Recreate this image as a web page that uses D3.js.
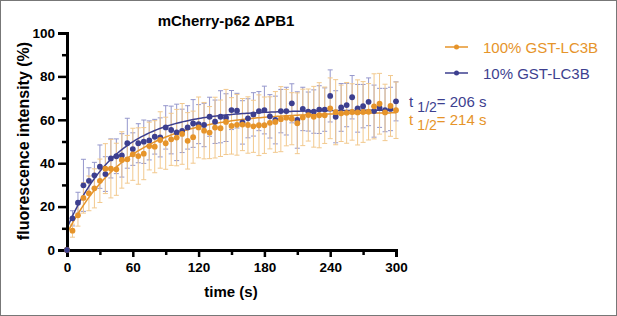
<!DOCTYPE html>
<html>
<head>
<meta charset="utf-8">
<script src="https://cdn.jsdelivr.net/npm/d3@7"></script>
<style>
  body { margin: 0; background: #fff; }
  svg { display: block; font-family: "Liberation Sans", Arial, sans-serif; }
</style>
</head>
<body>
<script>
const W = 617, H = 316;

// time points (s)
const times = d3.range(0, 301, 5);

// 10% GST-LC3B (blue) mean and SD
const blueMean = [0, 14.6, 21.8, 29.8, 31.9, 34.4, 38.4, 35.0, 42.2, 43.2, 43.6,
  49.2, 46.5, 49.2, 49.9, 50.5, 52.2, 51.9, 56.5, 55.3, 54.2,
  54.9, 56.5, 58.3, 58.0, 57.6, 61.4, 59.1, 61.4, 61.0, 64.5,
  64.2, 58.8, 60.7, 62.5, 64.0, 64.5, 61.6, 59.9, 64.0, 64.0,
  67.6, 59.9, 65.0, 63.8, 63.8, 64.7, 64.7, 71.0, 61.4, 65.7,
  66.8, 70.4, 65.3, 66.3, 68.3, 64.0, 65.5, 64.5, 65.0, 68.5];
const blueSD = [0, 3.5, 4.8, 12, 6, 6, 10, 8, 9, 8, 10,
  11.5, 7.5, 9, 10, 9, 8, 9, 10, 11, 13,
  10, 10, 11, 9, 10, 9, 10, 12, 11, 9,
  8, 10, 9, 10, 9, 11, 10, 11, 10, 11,
  9, 13, 10, 9, 10, 11, 10, 12, 12, 11,
  10, 10, 11, 10, 11, 12, 9, 10, 10, 9];

// 100% GST-LC3B (orange) mean and SD
const orangeMean = [0, 8.9, 16.0, 24.0, 26.1, 28.4, 31.9, 37.5, 37.5, 37.2, 41.5,
  41.8, 44.1, 43.3, 44.4, 47.9, 47.6, 50.7, 49.2, 51.0, 51.8,
  53.5, 50.3, 52.0, 56.5, 55.0, 54.1, 56.4, 56.1, 59.0, 57.2,
  57.7, 57.8, 57.6, 57.0, 57.5, 57.5, 58.6, 59.0, 60.3, 61.0,
  60.5, 58.4, 61.1, 62.2, 61.4, 62.1, 62.1, 65.3, 63.5, 63.0,
  63.2, 63.6, 63.4, 63.6, 63.7, 66.2, 67.4, 63.4, 66.4, 64.4];
const orangeSD = [0, 3, 5, 7, 8, 9, 10, 11.5, 13.5, 12, 13,
  11, 12, 13, 12, 11, 12, 13, 12, 12, 13,
  14, 13, 12, 14, 13, 12, 14, 13, 15, 13,
  14, 12, 13, 12, 14, 13, 12, 14, 15, 13,
  12, 14, 13, 12, 14, 15, 13, 14, 15, 13,
  14, 13, 15, 14, 13, 15, 14, 13, 14, 13];

// one-phase association fits: Y0, plateau, k
const blueFit = { y0: 10, plateau: 64.5, k: 0.0219 };
const orangeFit = { y0: 7.7, plateau: 63.5, k: 0.0176 };

const xTicks = [0, 60, 120, 180, 240, 300];
const xMinor = [30, 90, 150, 210, 270];
const yTicks = [0, 20, 40, 60, 80, 100];
const yMinor = [10, 30, 50, 70, 90];

const series = [
  { name: "10% GST-LC3B", mean: blueMean, sd: blueSD, fit: blueFit, color: "#3d3f8f", bar: "#9597cc", half: "206 s" },
  { name: "100% GST-LC3B", mean: orangeMean, sd: orangeSD, fit: orangeFit, color: "#e6942a", bar: "#f2c98e", half: "214 s" }
];

const svg = d3.select("body").append("svg")
  .attr("width", W)
  .attr("height", H);

svg.append("rect")
  .attr("x", 0.5).attr("y", 0.5)
  .attr("width", W - 1).attr("height", H - 1)
  .attr("fill", "#fff")
  .attr("stroke", "#777");

const x = d3.scaleLinear().domain([0, 300]).range([67, 396]);
const y = d3.scaleLinear().domain([0, 100]).range([250, 33]);

// error bars
series.forEach(s => {
  const g = svg.append("g").attr("stroke", s.bar).attr("stroke-width", 1);
  times.forEach((t, i) => {
    if (s.sd[i] === 0) return;
    const cx = x(t), lo = y(s.mean[i] - s.sd[i]), hi = y(s.mean[i] + s.sd[i]);
    g.append("line").attr("x1", cx).attr("x2", cx).attr("y1", lo).attr("y2", hi);
    g.append("line").attr("x1", cx - 2.5).attr("x2", cx + 2.5).attr("y1", lo).attr("y2", lo);
    g.append("line").attr("x1", cx - 2.5).attr("x2", cx + 2.5).attr("y1", hi).attr("y2", hi);
  });
});

// fit curves
const fitT = d3.range(0, 300.5, 2);
series.forEach(s => {
  const f = t => s.fit.y0 + (s.fit.plateau - s.fit.y0) * (1 - Math.exp(-s.fit.k * t));
  svg.append("path")
    .datum(fitT)
    .attr("fill", "none")
    .attr("stroke", s.color)
    .attr("stroke-width", 1.5)
    .attr("d", d3.line().x(t => x(t)).y(t => y(f(t))));
});

// points
series.forEach(s => {
  svg.append("g").selectAll("circle")
    .data(times)
    .join("circle")
    .attr("cx", t => x(t))
    .attr("cy", (t, i) => y(s.mean[i]))
    .attr("r", 2.9)
    .attr("fill", s.color);
});

// axes
const yAxis = svg.append("g").attr("transform", "translate(67,0)");
yAxis.call(d3.axisLeft(y).tickValues(yTicks).tickSize(9).tickFormat(d3.format("d")));
yAxis.append("g").call(d3.axisLeft(y).tickValues(yMinor).tickSize(5).tickFormat(""));

const xAxis = svg.append("g").attr("transform", "translate(0,250)");
xAxis.call(d3.axisBottom(x).tickValues(xTicks).tickSize(7).tickFormat(d3.format("d")));
xAxis.append("g").call(d3.axisBottom(x).tickValues(xMinor).tickSize(5).tickFormat(""));

svg.selectAll(".domain").attr("stroke", "#000").attr("stroke-width", 3);
svg.selectAll(".tick line").attr("stroke", "#000").attr("stroke-width", 2.5);
svg.selectAll(".tick text")
  .attr("fill", "#000")
  .style("font-size", "13.5px")
  .style("font-weight", "bold")
  .style("font-family", "'Liberation Sans', Arial, sans-serif");
yAxis.selectAll(".tick text").attr("x", -12);
xAxis.selectAll(".tick text").attr("y", 12);

// re-draw the origin point above the axes
series.slice().reverse().forEach(s => {
  svg.append("circle").attr("cx", x(0)).attr("cy", y(s.mean[0])).attr("r", 2.9).attr("fill", s.color);
});

// titles
svg.append("text")
  .attr("x", 226).attr("y", 26)
  .attr("text-anchor", "middle")
  .style("font-size", "15px").style("font-weight", "bold")
  .text("mCherry-p62 \u0394PB1");

svg.append("text")
  .attr("x", 231).attr("y", 297)
  .attr("text-anchor", "middle")
  .style("font-size", "15px").style("font-weight", "bold")
  .text("time (s)");

svg.append("text")
  .attr("transform", "translate(29,141) rotate(-90)")
  .attr("text-anchor", "middle")
  .style("font-size", "16px").style("font-weight", "bold")
  .text("fluorescence intensity (%)");

// legend
const legendOrder = [series[1], series[0]];
legendOrder.forEach((s, i) => {
  const ly = 47 + i * 26;
  svg.append("line").attr("x1", 445).attr("x2", 468).attr("y1", ly).attr("y2", ly)
    .attr("stroke", s.color).attr("stroke-width", 1.5);
  svg.append("circle").attr("cx", 456.5).attr("cy", ly).attr("r", 2.5).attr("fill", s.color);
  svg.append("text").attr("x", 483).attr("y", ly + 5.5)
    .style("font-size", "15px").attr("fill", s.color).text(s.name);
});

// half-time annotations
[series[0], series[1]].forEach((s, i) => {
  const t = svg.append("text").attr("x", 409).attr("y", 107 + i * 18)
    .style("font-size", "15px").attr("fill", s.color);
  t.append("tspan").text("t ");
  t.append("tspan").attr("dy", 5).style("font-size", "14px").text("1/2");
  t.append("tspan").attr("dy", -5).text("= " + s.half);
});
</script>
</body>
</html>
